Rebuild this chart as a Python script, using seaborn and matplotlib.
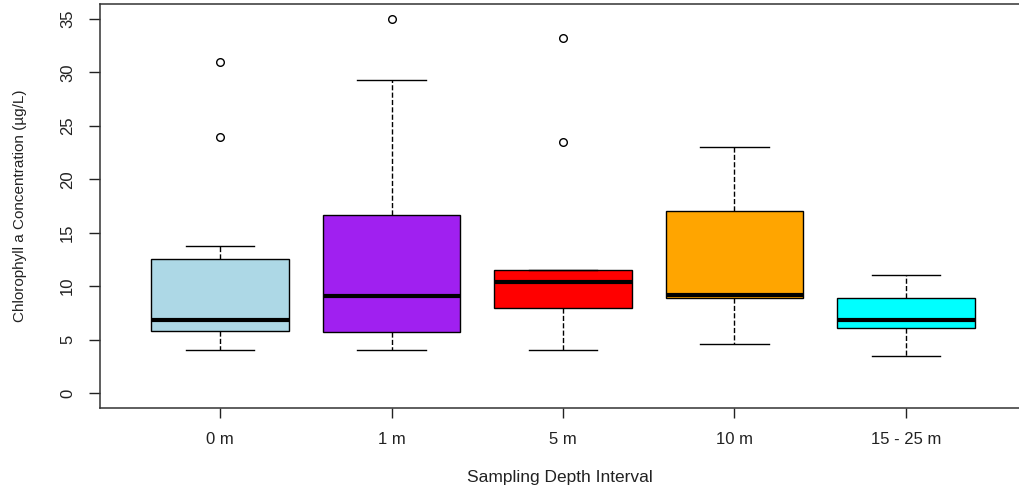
import pandas as pd
import seaborn as sns
import matplotlib
matplotlib.use("Agg")
import matplotlib.pyplot as plt

# Depth intervals and box colours
depths = ["0 m", "1 m", "5 m", "10 m", "15 - 25 m"]
box_colors = ["#ADD8E6", "#A020F0", "#FF0000", "#FFA500", "#00FFFF"]

# Chlorophyll a samples (ug/L) per depth interval
chl_0m = [4.0, 4.9, 5.5, 5.8, 6.2, 6.6, 6.85, 8.4, 10.9, 12.55, 13.8, 24.0, 31.0]
chl_1m = [4.0, 4.6, 5.2, 5.75, 6.9, 8.0, 9.1, 11.3, 14.2, 16.7, 19.8, 29.25, 35.0]
chl_5m = [4.0, 6.5, 8.0, 9.5, 10.4, 11.0, 11.5, 23.5, 33.2]
chl_10m = [4.6, 7.8, 8.9, 9.0, 9.2, 12.5, 17.0, 20.1, 23.0]
chl_15_25m = [3.45, 5.3, 6.1, 6.5, 6.85, 7.6, 8.9, 9.8, 11.0]

y_ticks = [0, 5, 10, 15, 20, 25, 30, 35]

samples = [chl_0m, chl_1m, chl_5m, chl_10m, chl_15_25m]
df = pd.DataFrame({
    "depth": [d for d, vals in zip(depths, samples) for _ in vals],
    "chl": [v for vals in samples for v in vals],
})

plt.rcParams["font.family"] = ["Liberation Sans", "DejaVu Sans"]
txt = "#222222"

fig = plt.figure(figsize=(10.19, 4.9), dpi=100)
ax = fig.add_axes([100 / 1019, 82 / 490, 926 / 1019, 404 / 490])

sns.boxplot(
    data=df, x="depth", y="chl", hue="depth", order=depths, hue_order=depths,
    palette=box_colors, saturation=1, legend=False, width=0.8,
    linecolor="black", linewidth=1,
    whiskerprops={"linestyle": "--"},
    medianprops={"linewidth": 3},
    flierprops={"marker": "o", "markerfacecolor": "none", "markersize": 5.5,
                "markeredgewidth": 1},
    ax=ax,
)

ax.set_xlim(-0.7, 4.7)
ax.set_ylim(-1.4, 36.4)
ax.set_yticks(y_ticks)
ax.set_yticklabels([str(t) for t in y_ticks], rotation=90, va="center")
ax.tick_params(axis="y", length=8, width=1, pad=10, labelsize=12, colors=txt)
ax.tick_params(axis="x", length=7, width=1, pad=10, labelsize=12, colors=txt)
for s in ax.spines.values():
    s.set_linewidth(1.1)
    s.set_color("#333333")

ax.set_xlabel("Sampling Depth Interval", fontsize=12.5, color=txt)
ax.set_ylabel("Chlorophyll a Concentration (\u00b5g/L)", fontsize=11, color=txt)
ax.xaxis.set_label_coords(0.497, -0.173)
ax.xaxis.label.set_va("center")
ax.yaxis.set_label_coords(-0.086, 0.5)
ax.yaxis.label.set_va("center")

fig.savefig("out.png", dpi=100, facecolor="white")
